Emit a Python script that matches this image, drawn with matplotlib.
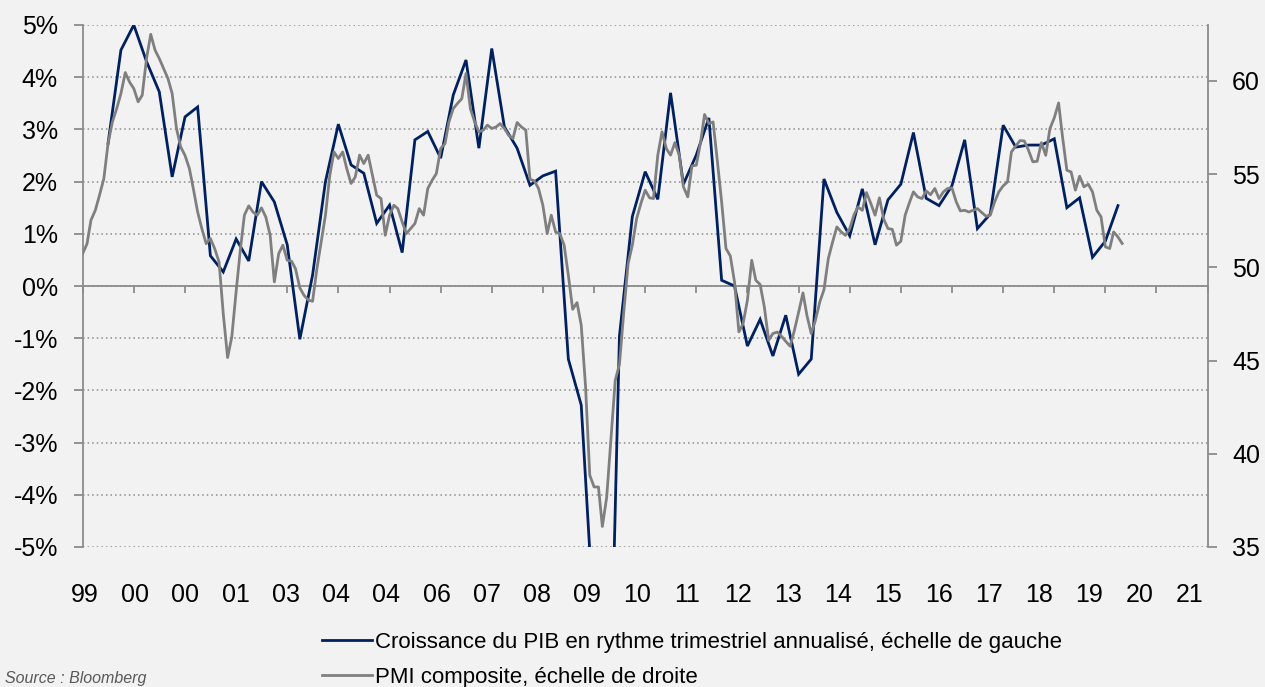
import matplotlib
matplotlib.use('Agg')
import matplotlib.pyplot as plt
import matplotlib.dates as mdates
from matplotlib.lines import Line2D
import pandas as pd

# ---------------- data ----------------
gdp_start = '1999-07-01'   # quarterly, annualised q/q growth (%)
gdp = [2.73, 4.52,
       5.0, 4.3, 3.72, 2.09,
       3.24, 3.43, 0.58, 0.27,
       0.9, 0.48, 2.0, 1.61,
       0.79, -1.02, 0.21, 2.0,
       3.1, 2.32, 2.16, 1.2,
       1.55, 0.64, 2.8, 2.96,
       2.45, 3.66, 4.33, 2.64,
       4.55, 3.05, 2.64, 1.93,
       2.11, 2.2, -1.40, -2.28,
       -6.5, -11.0, -0.96, 1.33,
       2.19, 1.66, 3.7, 1.95,
       2.51, 3.22, 0.11, 0.0,
       -1.15, -0.64, -1.34, -0.56,
       -1.69, -1.40, 2.05, 1.41,
       0.96, 1.86, 0.79, 1.65,
       1.95, 2.94, 1.68, 1.54,
       1.92, 2.80, 1.1, 1.38,
       3.08, 2.66, 2.70, 2.70,
       2.82, 1.5, 1.69, 0.55,
       0.86, 1.54]

pmi_start = '1999-01-01'   # monthly composite PMI
pmi = [50.74, 51.27, 52.53, 53.06, 53.87, 54.76, 56.64, 57.8, 58.52, 59.32, 60.45, 59.95,
       59.59, 58.88, 59.23, 61.2, 62.5, 61.65, 61.2, 60.66, 60.13, 59.32, 57.45, 56.46,
       56.0, 55.3, 54.23, 52.97, 52.08, 51.27, 51.55, 51.0, 50.29, 47.52, 45.16, 46.27,
       48.7, 51.01, 52.8, 53.3, 52.97, 52.8, 53.19, 52.7, 51.72, 49.22, 50.74, 51.19,
       50.38, 50.33, 49.93, 48.9, 48.5, 48.24, 48.18, 49.93, 51.37, 52.8, 54.94, 56.19,
       55.84, 56.19, 55.3, 54.5, 54.85, 56.02, 55.57, 56.02, 54.94, 53.87, 53.69, 51.72,
       52.8, 53.33, 53.15, 52.44, 51.81, 52.08, 52.35, 53.15, 52.8, 54.23, 54.67, 55.03,
       56.37, 56.64, 57.8, 58.52, 58.79, 59.05, 60.4, 58.52, 57.8, 57.27, 57.36, 57.63,
       57.45, 57.53, 57.71, 57.45, 57.09, 56.91, 57.77, 57.53, 57.36, 54.73, 54.64, 54.23,
       53.33, 51.81, 52.8, 51.9, 51.81, 51.19, 49.58, 47.75, 48.11, 46.9, 43.6, 38.85,
       38.22, 38.22, 36.1, 37.68, 40.72, 43.94, 44.8, 47.6, 50.2, 51.19, 52.62, 53.42,
       54.14, 53.73, 53.69, 56.02, 57.27, 56.37, 56.02, 56.69, 56.02, 54.32, 53.78, 55.44,
       55.48, 56.73, 58.2, 57.71, 57.8, 55.66, 53.51, 51.01, 50.61, 49.22, 46.54, 46.98,
       48.23, 50.38, 49.31, 49.08, 47.88, 46.09, 46.45, 46.53, 46.3, 46.03, 45.77, 46.6,
       47.6, 48.63, 47.43, 46.45, 47.16, 48.14, 48.8, 50.47, 51.37, 52.17, 51.9, 51.72,
       52.08, 52.83, 53.24, 53.06, 54.01, 53.42, 52.8, 53.73, 52.58, 52.08, 52.04, 51.19,
       51.4, 52.8, 53.42, 54.05, 53.78, 53.69, 54.1, 53.9, 54.23, 53.69, 54.05, 54.23,
       54.26, 53.51, 53.03, 53.06, 52.97, 53.06, 53.15, 52.94, 52.74, 52.8, 53.51, 54.05,
       54.37, 54.58, 56.19, 56.51, 56.8, 56.78, 56.28, 55.66, 55.69, 56.69, 56.01, 57.44,
       58.02, 58.82, 57.0, 55.21, 55.12, 54.14, 54.89, 54.32, 54.46, 54.05, 53.06, 52.71,
       51.1, 51.01, 51.9, 51.63, 51.28]

x_labels = ['99', '00', '00', '01', '03', '04', '04', '06', '07', '08', '09', '10',
            '11', '12', '13', '14', '15', '16', '17', '18', '19', '20', '21']
left_ticks = list(range(-5, 6))
right_ticks = [35, 40, 45, 50, 55, 60]
gdp_label = "Croissance du PIB en rythme trimestriel annualisé, échelle de gauche"
pmi_label = "PMI composite, échelle de droite"
source_text = "Source : Bloomberg"

# ---------------- style ----------------
NAVY = '#002060'
GRAY = '#7F7F7F'
AXC = '#8C8C8C'
GRID = '#8C8C8C'
BG = '#F2F2F2'
FONT = ['Liberation Sans', 'DejaVu Sans']
plt.rcParams['font.family'] = FONT
LW_DATA = 2.0
LW_AX = 1.3

W, H = 1265, 687
fig = plt.figure(figsize=(W / 100, H / 100), dpi=100, facecolor=BG)
L, R, T, B = 82.7, 1207.7, 25, 547
ax = fig.add_axes([L / W, 1 - B / H, (R - L) / W, (B - T) / H])
ax.set_facecolor(BG)
ax2 = ax.twinx()

gdp_dates = pd.date_range(gdp_start, periods=len(gdp), freq='QS')
pmi_dates = pd.date_range(pmi_start, periods=len(pmi), freq='MS')

x0 = pd.Timestamp('1999-01-01')
x1 = pd.Timestamp('2021-01-01')
tick_dates = pd.date_range(x0, x1, freq='YS')
tick_nums = mdates.date2num(tick_dates)
# Excel label placement is slightly compressed relative to tick marks
label_nums = tick_nums[0] + (tick_nums - tick_nums[0]) * 0.982 + 16

ax.set_xlim(mdates.date2num(x0), mdates.date2num(x1))
ax.set_ylim(-5, 5)
ax2.set_ylim(35, 63)

# gridlines
ax.set_yticks(left_ticks)
ax.set_yticklabels([f'{v}%' for v in left_ticks])
ax.yaxis.grid(True, linestyle=(0, (1, 2)), color=GRID, linewidth=1.1, zorder=0)
ax.set_axisbelow(True)
ax.axhline(0, color=AXC, linewidth=LW_AX, zorder=1.5)

# lines
ax.plot(mdates.date2num(gdp_dates), gdp, color=NAVY, linewidth=LW_DATA, zorder=3,
        solid_joinstyle='miter')
ax2.plot(mdates.date2num(pmi_dates), pmi, color=GRAY, linewidth=LW_DATA, zorder=3)

# spines
for s in ['top', 'bottom', 'right']:
    ax.spines[s].set_visible(False)
ax.spines['left'].set_color(AXC)
ax.spines['left'].set_linewidth(LW_AX)
for s in ['top', 'bottom', 'left']:
    ax2.spines[s].set_visible(False)
ax2.spines['right'].set_color(AXC)
ax2.spines['right'].set_linewidth(LW_AX)

ax.tick_params(axis='y', direction='out', length=6.3, width=LW_AX, color=AXC,
               labelsize=18, pad=11.5, labelcolor='black')
ax2.set_yticks(right_ticks)
ax2.tick_params(axis='y', direction='out', length=6.5, width=LW_AX, color=AXC,
                labelsize=18, pad=11, labelcolor='black')

# x labels at bottom
ax.set_xticks(label_nums)
ax.set_xticklabels(x_labels)
ax.tick_params(axis='x', length=0, labelsize=18, pad=26, labelcolor='black')

# tick marks on the zero line
sec = ax.secondary_xaxis(0.5)
sec.set_alignment('bottom')
sec.set_xticks(tick_nums)
sec.set_xticklabels([''] * len(tick_nums))
sec.tick_params(axis='x', direction='out', length=5.3, width=LW_AX, color=AXC)
for s in sec.spines.values():
    s.set_visible(False)

# legend
handles = [Line2D([], [], color=NAVY, linewidth=LW_DATA),
           Line2D([], [], color=GRAY, linewidth=LW_DATA)]
fig.legend(handles, [gdp_label, pmi_label], loc='upper left',
           bbox_to_anchor=(322 / W, 1 - 632 / H), frameon=False,
           fontsize=16, handlelength=2.25, handletextpad=0.12,
           labelspacing=0.62, borderpad=0, borderaxespad=0)

fig.text(5 / W, 1 - 683 / H, source_text, fontsize=11.5, style='italic',
         color='#595959', ha='left', va='baseline')

fig.savefig('out.png', dpi=100, facecolor=BG)
